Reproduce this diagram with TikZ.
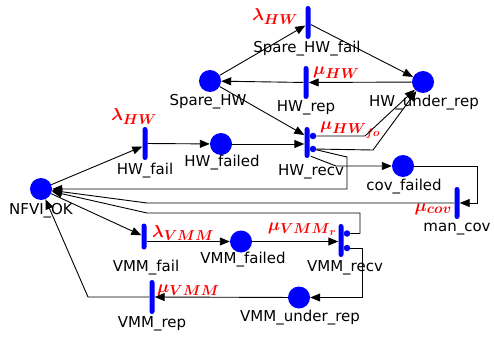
\documentclass[tikz,border=0pt]{standalone}
\usepackage{fontspec}
\setmainfont{DejaVu Sans}
\usetikzlibrary{arrows.meta}
\DeclareMathSizes{19}{19}{15}{11}
\begin{document}
\begin{tikzpicture}[x=1pt,y=-1pt,
  place/.style={circle,fill=blue,inner sep=0pt,minimum size=22pt},
  trans/.style={rectangle,fill=blue,inner sep=0pt,minimum width=5pt,minimum height=33pt,rounded corners=2.5pt},
  port/.style={circle,fill=blue,inner sep=0pt,minimum size=6.5pt},
  lbl/.style={font=\fontsize{15}{16}\selectfont,inner sep=0pt},
  rate/.style={text=red,font=\fontsize{19}{22}\selectfont\boldmath,inner sep=0pt,anchor=base west},
  arc/.style={draw=black,line width=0.9pt,-{Triangle[length=10pt,width=8pt]}},
]
\useasboundingbox (0,0) rectangle (494,339);

% places
\node[place] (ok)    at (41,189) {};
\node[place] (hwfd)  at (221,144) {};
\node[place] (spare) at (210,81) {};
\node[place] (hwur)  at (423,82) {};
\node[place] (covf)  at (403,166) {};
\node[place] (vmmfd) at (241,241.5) {};
\node[place] (vmmur) at (299,297.5) {};

% transitions
\node[trans] (hwfail)  at (145,143.5) {};
\node[trans] (shfail)  at (308,22.5) {};
\node[trans] (hwrep)   at (306,82.5) {};
\node[trans,minimum height=31pt] (hwrecv) at (307,142.5) {};
\node[trans,minimum height=32pt] (mancov) at (457,203) {};
\node[trans,minimum height=26pt] (vmmfail) at (144,236.5) {};
\node[trans] (vmmrecv) at (341,240.5) {};
\node[trans,minimum height=34pt] (vmmrep) at (152,297) {};

% output ports of the immediate transitions
\node[port] (hwrecvA)  at (313,136) {};
\node[port] (hwrecvB)  at (313,149) {};
\node[port] (vmmrecvA) at (347,233.5) {};
\node[port] (vmmrecvB) at (347,248) {};

% place and transition names
\node[lbl] (okL)     at (41,211)  {NFVI\_OK};
\node[lbl] (hwfdL)   at (222,163) {HW\_failed};
\node[lbl] (spareL)  at (208,102) {Spare\_HW};
\node[lbl] (hwurL)   at (424,103) {HW\_under\_rep};
\node[lbl] (covfL)   at (404,187) {cov\_failed};
\node[lbl] (vmmfdL)  at (243,260) {VMM\_failed};
\node[lbl] (vmmurL)  at (300,318) {VMM\_under\_rep};
\node[lbl] (hwfailL) at (145,171) {HW\_fail};
\node[lbl] (shfailL) at (307,49)  {Spare\_HW\_fail};
\node[lbl] (hwrepL)  at (306,108) {HW\_rep};
\node[lbl] (hwrecvL) at (311,172) {HW\_recv};
\node[lbl] (mancovL) at (457,229) {man\_cov};
\node[lbl] (vmmfailL) at (146,268) {VMM\_fail};
\node[lbl] (vmmrecvL) at (345,268) {VMM\_recv};
\node[lbl] (vmmrepL) at (152,324) {VMM\_rep};

% firing rates
\node[rate,anchor=base east] (r1) at (157,121) {$\lambda_{HW}$};
\node[rate,anchor=base east] (r2) at (298,21)  {$\lambda_{HW}$};
\node[rate] (r3) at (313,75)  {$\mu_{HW}$};
\node[rate] (r4) at (320,130) {$\mu_{{HW}_{fo}}$};
\node[rate,anchor=base east] (r5) at (452,211) {$\mu_{cov}$};
\node[rate] (r6) at (152,237) {$\lambda_{VMM}$};
\node[rate,anchor=base east] (r7) at (337,230) {$\mu_{{VMM}_{r}}$};
\node[rate] (r8) at (157,292) {$\mu_{VMM}$};

% hardware failure and spare handling
\draw[arc] (ok) -- ([yshift=-3pt]hwfail.west);
\draw[arc] (hwfail) -- (hwfd);
\draw[arc] (hwfd) -- (hwfd -| hwrecv.west);
\draw[arc] (spare) -- ([yshift=7.5pt]hwrecv.west);
\draw[arc] (spare) -- ([yshift=-3pt]shfail.west);
\draw[arc] ([yshift=-2pt]shfail.east) -- (hwur);
\draw[arc] (hwur) -- (hwrep);
\draw[arc] (hwrep) -- (spare);
\draw[arc] (hwrecvA) -- (365,136) -- (hwur);
\draw[arc] (hwrecvB) -- (373,150) -- (hwur);
\draw[arc] (hwrecvB) -- (347,157) -- (347,189) -- (ok);
\draw[arc] ([xshift=1pt,yshift=2pt]hwrecv.south east) -- (336,166) -- (covf);
\draw[arc] (covf) -- (477,166) -- (477,203) -- (mancov);
\draw[arc] (mancov) -- (147,203) -- (ok);

% VMM failure and recovery
\draw[arc] (ok) -- (vmmfail);
\draw[arc] (vmmfail.east |- vmmfd) -- (vmmfd);
\draw[arc] (vmmfd) -- (vmmfd -| vmmrecv.west);
\draw[arc] (vmmrecvA) -- (360,233.5) -- (360,213) -- (147,213) -- (ok);
\draw[arc] (vmmrecvB) -- (362,248) -- (362,297.5) -- (vmmur);
\draw[arc] (vmmur) -- (vmmrep);
\draw[arc] (vmmrep) -- (88,297) -- (ok);
\end{tikzpicture}
\end{document}
